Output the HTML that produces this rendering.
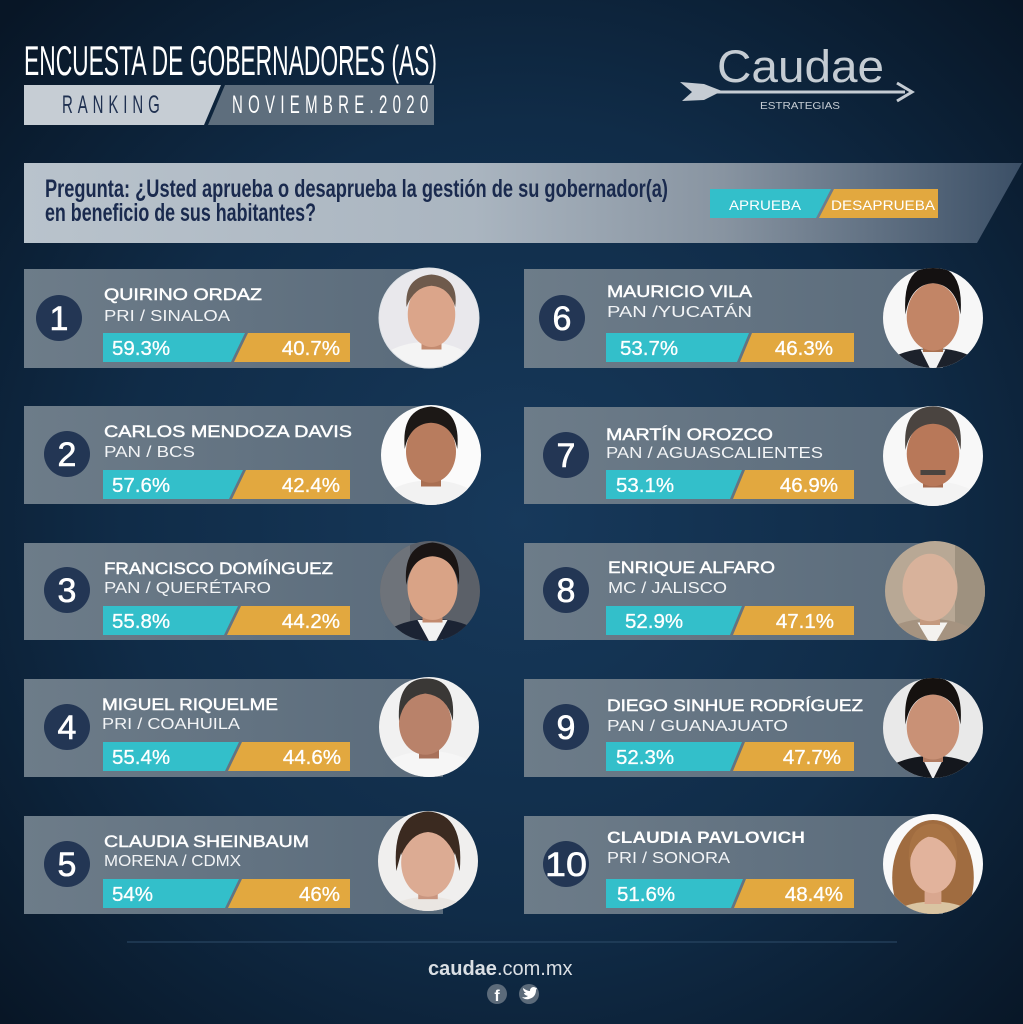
<!DOCTYPE html>
<html><head><meta charset="utf-8"><style>
html,body{margin:0;padding:0;background:#0e2640;}
svg{display:block;}
text{font-family:"Liberation Sans",sans-serif;}
</style></head><body>
<svg width="1023" height="1024" viewBox="0 0 1023 1024" xmlns="http://www.w3.org/2000/svg">
<defs>
<radialGradient id="bg" cx="520" cy="520" r="720" gradientUnits="userSpaceOnUse">
<stop offset="0" stop-color="#17395b"/><stop offset="0.55" stop-color="#102c48"/><stop offset="1" stop-color="#081626"/>
</radialGradient>
<linearGradient id="card" x1="0" y1="0" x2="1" y2="0">
<stop offset="0" stop-color="#6d7c89"/><stop offset="1" stop-color="#5a6b7b"/>
</linearGradient>
<linearGradient id="q" x1="24" y1="0" x2="1022" y2="0" gradientUnits="userSpaceOnUse">
<stop offset="0" stop-color="#b9c3cc"/><stop offset="0.45" stop-color="#aab5c0"/><stop offset="0.7" stop-color="#8894a1"/><stop offset="1" stop-color="#3b4f66"/>
</linearGradient>
<clipPath id="c"><circle r="50"/></clipPath>
</defs>
<rect width="1023" height="1024" fill="url(#bg)"/>

<!-- Header -->
<text x="24" y="75" font-size="42" fill="#ffffff" textLength="413" lengthAdjust="spacingAndGlyphs">ENCUESTA DE GOBERNADORES (AS)</text>
<polygon points="24,85 221,85 204,125 24,125" fill="#c6cdd4"/>
<polygon points="225,85 434,85 434,125 208,125" fill="#5e6e7d"/>
<text transform="translate(62,113) scale(0.6,1)" x="0" y="0" font-size="25" fill="#1f3050" textLength="163" lengthAdjust="spacing">RANKING</text>
<text transform="translate(232,113) scale(0.6,1)" x="0" y="0" font-size="25" fill="#ffffff" textLength="327" lengthAdjust="spacing">NOVIEMBRE.2020</text>

<!-- Logo -->
<text x="717" y="82" font-size="45" fill="#c5ccd3" textLength="167" lengthAdjust="spacingAndGlyphs">Caudae</text>
<rect x="700" y="90.5" width="205" height="3" fill="#c5ccd3"/>
<polygon points="680,82 704,84 722,91 704,100 682,101 692,92" fill="#c5ccd3"/>
<polyline points="897,83 912,92 897,101" fill="none" stroke="#c5ccd3" stroke-width="3"/>
<text x="760" y="109" font-size="10" fill="#c5ccd3" textLength="80" lengthAdjust="spacingAndGlyphs">ESTRATEGIAS</text>

<!-- Question box -->
<polygon points="24,163 1022,163 977,243 24,243" fill="url(#q)"/>
<text x="45" y="197" font-size="25" font-weight="bold" fill="#1a2a4e" textLength="623" lengthAdjust="spacingAndGlyphs">Pregunta: ¿Usted aprueba o desaprueba la gestión de su gobernador(a)</text>
<text x="45" y="221" font-size="25" font-weight="bold" fill="#1a2a4e" textLength="271" lengthAdjust="spacingAndGlyphs">en beneficio de sus habitantes?</text>
<polygon points="710,189 831,189 816,218 710,218" fill="#33bfca"/>
<polygon points="834,189 938,189 938,218 819,218" fill="#e2a83f"/>
<text x="729" y="210" font-size="13.5" fill="#ffffff" textLength="72" lengthAdjust="spacingAndGlyphs">APRUEBA</text>
<text x="831" y="210" font-size="13.5" fill="#ffffff" textLength="104" lengthAdjust="spacingAndGlyphs">DESAPRUEBA</text>

<!-- CARDS -->
<g>
<rect x="24" y="269" width="419" height="99" fill="url(#card)"/>
<rect x="24" y="406" width="419" height="98" fill="url(#card)"/>
<rect x="24" y="543" width="419" height="97" fill="url(#card)"/>
<rect x="24" y="679" width="419" height="98" fill="url(#card)"/>
<rect x="24" y="816" width="419" height="98" fill="url(#card)"/>
<rect x="524" y="269" width="419" height="99" fill="url(#card)"/>
<rect x="524" y="407" width="419" height="97" fill="url(#card)"/>
<rect x="524" y="543" width="419" height="97" fill="url(#card)"/>
<rect x="524" y="679" width="419" height="98" fill="url(#card)"/>
<rect x="524" y="816" width="419" height="98" fill="url(#card)"/>
</g>

<!-- number circles -->
<g fill="#233654">
<circle cx="59" cy="318" r="23"/><circle cx="67" cy="454" r="23"/><circle cx="67" cy="590" r="23"/><circle cx="67" cy="727" r="23"/><circle cx="67" cy="864" r="23"/>
<circle cx="562" cy="318" r="23"/><circle cx="566" cy="455" r="23"/><circle cx="566" cy="590" r="23"/><circle cx="566" cy="727" r="23"/><circle cx="566" cy="864" r="23"/>
</g>
<g fill="#ffffff" font-size="34" text-anchor="middle" stroke="#ffffff" stroke-width="0.6">
<text x="59" y="330">1</text><text x="67" y="466">2</text><text x="67" y="602">3</text><text x="67" y="739">4</text><text x="67" y="876">5</text>
<text x="562" y="330">6</text><text x="566" y="467">7</text><text x="566" y="602">8</text><text x="566" y="739">9</text>
<text x="566" y="876" textLength="42" lengthAdjust="spacingAndGlyphs">10</text>
</g>

<!-- names -->
<g fill="#ffffff" font-size="16.5" stroke="#ffffff" stroke-width="0.45">
<text x="104" y="300" textLength="158" lengthAdjust="spacingAndGlyphs">QUIRINO ORDAZ</text>
<text x="104" y="437" textLength="248" lengthAdjust="spacingAndGlyphs">CARLOS MENDOZA DAVIS</text>
<text x="104" y="574" textLength="229" lengthAdjust="spacingAndGlyphs">FRANCISCO DOMÍNGUEZ</text>
<text x="102" y="710" textLength="176" lengthAdjust="spacingAndGlyphs">MIGUEL RIQUELME</text>
<text x="104" y="847" textLength="205" lengthAdjust="spacingAndGlyphs">CLAUDIA SHEINBAUM</text>
<text x="607" y="297" textLength="145" lengthAdjust="spacingAndGlyphs">MAURICIO VILA</text>
<text x="606" y="440" textLength="167" lengthAdjust="spacingAndGlyphs">MARTÍN OROZCO</text>
<text x="608" y="573" textLength="167" lengthAdjust="spacingAndGlyphs">ENRIQUE ALFARO</text>
<text x="607" y="711" textLength="256" lengthAdjust="spacingAndGlyphs">DIEGO SINHUE RODRÍGUEZ</text>
</g>
<text x="607" y="843" font-size="16.5" font-weight="bold" fill="#ffffff" textLength="198" lengthAdjust="spacingAndGlyphs">CLAUDIA PAVLOVICH</text>

<!-- parties -->
<g fill="#f2f4f6" font-size="16">
<text x="104" y="321" textLength="126" lengthAdjust="spacingAndGlyphs">PRI / SINALOA</text>
<text x="104" y="457" textLength="91" lengthAdjust="spacingAndGlyphs">PAN / BCS</text>
<text x="104" y="593" textLength="167" lengthAdjust="spacingAndGlyphs">PAN / QUERÉTARO</text>
<text x="102" y="729" textLength="138" lengthAdjust="spacingAndGlyphs">PRI / COAHUILA</text>
<text x="104" y="866" textLength="137" lengthAdjust="spacingAndGlyphs">MORENA / CDMX</text>
<text x="607" y="317" textLength="145" lengthAdjust="spacingAndGlyphs">PAN /YUCATÁN</text>
<text x="606" y="458" textLength="217" lengthAdjust="spacingAndGlyphs">PAN / AGUASCALIENTES</text>
<text x="608" y="593" textLength="119" lengthAdjust="spacingAndGlyphs">MC / JALISCO</text>
<text x="607" y="731" textLength="181" lengthAdjust="spacingAndGlyphs">PAN / GUANAJUATO</text>
<text x="607" y="863" textLength="123" lengthAdjust="spacingAndGlyphs">PRI / SONORA</text>
</g>

<!-- bars -->
<g>
<g transform="translate(103,333)"><polygon points="0,0 142,0 128,29 0,29" fill="#33bfca"/><polygon points="145,0 247,0 247,29 131,29" fill="#e2a83f"/></g>
<g transform="translate(103,470)"><polygon points="0,0 140,0 126,29 0,29" fill="#33bfca"/><polygon points="143,0 247,0 247,29 129,29" fill="#e2a83f"/></g>
<g transform="translate(103,606)"><polygon points="0,0 135,0 121,29 0,29" fill="#33bfca"/><polygon points="138,0 247,0 247,29 124,29" fill="#e2a83f"/></g>
<g transform="translate(103,742)"><polygon points="0,0 136,0 122,29 0,29" fill="#33bfca"/><polygon points="139,0 247,0 247,29 125,29" fill="#e2a83f"/></g>
<g transform="translate(103,879)"><polygon points="0,0 136,0 122,29 0,29" fill="#33bfca"/><polygon points="139,0 247,0 247,29 125,29" fill="#e2a83f"/></g>
<g transform="translate(606,333)"><polygon points="0,0 143,0 131,29 0,29" fill="#33bfca"/><polygon points="146,0 248,0 248,29 134,29" fill="#e2a83f"/></g>
<g transform="translate(606,470)"><polygon points="0,0 136,0 124,29 0,29" fill="#33bfca"/><polygon points="139,0 248,0 248,29 127,29" fill="#e2a83f"/></g>
<g transform="translate(606,606)"><polygon points="0,0 136,0 124,29 0,29" fill="#33bfca"/><polygon points="139,0 248,0 248,29 127,29" fill="#e2a83f"/></g>
<g transform="translate(606,742)"><polygon points="0,0 136,0 124,29 0,29" fill="#33bfca"/><polygon points="139,0 248,0 248,29 127,29" fill="#e2a83f"/></g>
<g transform="translate(606,879)"><polygon points="0,0 137,0 125,29 0,29" fill="#33bfca"/><polygon points="140,0 248,0 248,29 128,29" fill="#e2a83f"/></g>
</g>

<!-- percents -->
<g fill="#ffffff" font-size="20.5" stroke="#ffffff" stroke-width="0.3">
<text x="112" y="355">59.3%</text><text x="340" y="355" text-anchor="end">40.7%</text>
<text x="112" y="492">57.6%</text><text x="340" y="492" text-anchor="end">42.4%</text>
<text x="112" y="628">55.8%</text><text x="340" y="628" text-anchor="end">44.2%</text>
<text x="112" y="764">55.4%</text><text x="341" y="764" text-anchor="end">44.6%</text>
<text x="112" y="901">54%</text><text x="340" y="901" text-anchor="end">46%</text>
<text x="620" y="355">53.7%</text><text x="833" y="355" text-anchor="end">46.3%</text>
<text x="616" y="492">53.1%</text><text x="838" y="492" text-anchor="end">46.9%</text>
<text x="625" y="628">52.9%</text><text x="834" y="628" text-anchor="end">47.1%</text>
<text x="616" y="764">52.3%</text><text x="841" y="764" text-anchor="end">47.7%</text>
<text x="617" y="901">51.6%</text><text x="843" y="901" text-anchor="end">48.4%</text>
</g>

<!-- PHOTOS -->
<!-- 1 Quirino -->
<g transform="translate(429,318)"><g clip-path="url(#c)">
<rect x="-50" y="-50" width="100" height="100" fill="#e9e8ec"/>
<g transform="translate(0,4) scale(1.25)">
<ellipse cx="-2" cy="46" rx="46" ry="30" fill="#f4f4f4"/>
<rect x="-6" y="12" width="16" height="10" fill="#c48b70"/>
<ellipse cx="2" cy="-6" rx="19" ry="26" fill="#dba58a"/>
<path d="M-18,-12 Q-20,-36 2,-38 Q24,-36 21,-12 Q16,-28 2,-29 Q-12,-28 -18,-12Z" fill="#6e5a4c"/>
</g></g><circle r="50" fill="none" stroke="#dfe3e7" stroke-width="1"/></g>
<!-- 2 Carlos -->
<g transform="translate(431,455)"><g clip-path="url(#c)">
<rect x="-50" y="-50" width="100" height="100" fill="#fbfbfb"/>
<g transform="translate(0,4) scale(1.25)">
<ellipse cx="0" cy="47" rx="48" ry="30" fill="#f2f2f2"/>
<rect x="-8" y="12" width="16" height="10" fill="#a96f52"/>
<ellipse cx="0" cy="-6" rx="20" ry="25" fill="#b87c5e"/>
<path d="M-21,-8 Q-24,-40 0,-42 Q24,-40 21,-8 Q17,-28 0,-29 Q-17,-28 -21,-8Z" fill="#1c1816"/>
</g></g></g>
<!-- 3 Francisco -->
<g transform="translate(430,591)"><g clip-path="url(#c)">
<rect x="-50" y="-50" width="100" height="100" fill="#5b6068"/>
<rect x="-50" y="-50" width="30" height="100" fill="#6e737a"/>
<g transform="translate(0,4) scale(1.25)">
<ellipse cx="2" cy="47" rx="48" ry="28" fill="#1b2333"/>
<polygon points="-10,20 14,20 2,42" fill="#f2f2f2"/>
<rect x="-6" y="10" width="16" height="12" fill="#c28a6e"/>
<ellipse cx="2" cy="-6" rx="20" ry="26" fill="#d9a386"/>
<path d="M-19,-8 Q-22,-40 2,-42 Q26,-40 23,-8 Q19,-30 2,-31 Q-15,-30 -19,-8Z" fill="#1a1514"/>
</g></g></g>
<!-- 4 Miguel -->
<g transform="translate(429,727)"><g clip-path="url(#c)">
<rect x="-50" y="-50" width="100" height="100" fill="#f1f1f1"/>
<g transform="translate(0,4) scale(1.25)">
<ellipse cx="0" cy="46" rx="48" ry="30" fill="#f6f6f6"/>
<rect x="-8" y="12" width="16" height="10" fill="#a8715a"/>
<ellipse cx="-3" cy="-6" rx="21" ry="25" fill="#b9826a"/>
<path d="M-24,-8 Q-26,-42 -2,-42 Q22,-42 19,-8 Q15,-28 -3,-30 Q-20,-28 -24,-8Z" fill="#3a3836"/>
</g></g></g>
<!-- 5 Claudia S -->
<g transform="translate(428,861)"><g clip-path="url(#c)">
<rect x="-50" y="-50" width="100" height="100" fill="#f0efee"/>
<g transform="translate(0,4) scale(1.22)">
<ellipse cx="0" cy="50" rx="42" ry="24" fill="#eae6e2"/>
<rect x="-8" y="12" width="16" height="16" fill="#c99680"/>
<path d="M-26,5 Q-30,-42 0,-44 Q30,-42 26,5 L22,-10 Q0,-30 -22,-10Z" fill="#3b2a20"/>
<ellipse cx="0" cy="-2" rx="22" ry="28" fill="#dcab93"/>
<path d="M-22,-8 Q-22,-36 0,-37 Q22,-36 22,-8 Q14,-26 0,-27 Q-14,-26 -22,-8Z" fill="#3b2a20"/>
</g></g></g>
<!-- 6 Mauricio -->
<g transform="translate(933,318)"><g clip-path="url(#c)">
<rect x="-50" y="-50" width="100" height="100" fill="#f7f7f7"/>
<g transform="translate(0,4) scale(1.25)">
<ellipse cx="0" cy="49" rx="48" ry="28" fill="#1c212b"/>
<polygon points="-10,22 10,22 0,42" fill="#f2f2f2"/>
<rect x="-8" y="12" width="16" height="12" fill="#a8704f"/>
<ellipse cx="0" cy="-4" rx="21" ry="27" fill="#c28566"/>
<path d="M-22,-6 Q-25,-44 0,-45 Q25,-44 22,-6 Q18,-30 0,-31 Q-18,-30 -22,-6Z" fill="#141111"/>
</g></g></g>
<!-- 7 Martin -->
<g transform="translate(933,456)"><g clip-path="url(#c)">
<rect x="-50" y="-50" width="100" height="100" fill="#f8f8f8"/>
<g transform="translate(0,4) scale(1.25)">
<ellipse cx="0" cy="47" rx="48" ry="30" fill="#f3f3f3"/>
<rect x="-8" y="12" width="16" height="10" fill="#a56a4e"/>
<ellipse cx="0" cy="-5" rx="21" ry="26" fill="#b87859"/>
<path d="M-22,-8 Q-25,-42 0,-43 Q25,-42 22,-8 Q18,-28 0,-29 Q-18,-28 -22,-8Z" fill="#4a4440"/>
<rect x="-10" y="8" width="20" height="4" fill="#4a4440"/>
</g></g></g>
<!-- 8 Enrique -->
<g transform="translate(935,591)"><g clip-path="url(#c)">
<rect x="-50" y="-50" width="100" height="100" fill="#b8a895"/>
<rect x="20" y="-50" width="30" height="100" fill="#9e917f"/>
<g transform="translate(0,4) scale(1.25)">
<ellipse cx="-4" cy="49" rx="50" ry="30" fill="#a59380"/>
<polygon points="-14,22 10,22 -2,42" fill="#f4f2ef"/>
<rect x="-12" y="12" width="16" height="12" fill="#c59a7f"/>
<ellipse cx="-4" cy="-6" rx="22" ry="27" fill="#d8b29b"/>
</g></g></g>
<!-- 9 Diego -->
<g transform="translate(933,728)"><g clip-path="url(#c)">
<rect x="-50" y="-50" width="100" height="100" fill="#e9e9e9"/>
<g transform="translate(0,4) scale(1.25)">
<ellipse cx="0" cy="49" rx="50" ry="30" fill="#14171d"/>
<polygon points="-8,22 8,22 0,38" fill="#eeeeee"/>
<rect x="-8" y="12" width="16" height="12" fill="#b27c62"/>
<ellipse cx="0" cy="-4" rx="21" ry="26" fill="#c99176"/>
<path d="M-22,-6 Q-25,-43 0,-44 Q25,-43 22,-6 Q18,-29 0,-30 Q-18,-29 -22,-6Z" fill="#15110f"/>
</g></g></g>
<!-- 10 Claudia P -->
<g transform="translate(933,864)"><g clip-path="url(#c)">
<rect x="-50" y="-50" width="100" height="100" fill="#f9f9f9"/>
<g transform="translate(0,4) scale(1.2)">
<ellipse cx="0" cy="8" rx="34" ry="48" fill="#a06c40"/>
<ellipse cx="0" cy="52" rx="44" ry="24" fill="#d9c4a2"/>
<rect x="-7" y="14" width="14" height="16" fill="#d9a78f"/>
<ellipse cx="0" cy="-4" rx="19" ry="25" fill="#e2b39c"/>
<path d="M-20,-4 Q-22,-36 0,-37 Q22,-36 20,-4 Q10,-26 -4,-26 Q-16,-22 -20,-4Z" fill="#a87344"/>
</g></g></g>

<!-- Footer -->
<rect x="127" y="941.5" width="770" height="1" fill="#2e4c69"/>
<text x="428" y="975" font-size="20" fill="#dadfe4"><tspan font-weight="bold">caudae</tspan>.com.mx</text>
<circle cx="497" cy="994" r="10" fill="#5c6b7a"/>
<text x="497" y="1001" font-size="16" font-weight="bold" fill="#ffffff" text-anchor="middle">f</text>
<circle cx="529" cy="994" r="10" fill="#5c6b7a"/>
<path d="M522,997 Q526,998 528,996 Q524,995 524,993 Q525,993 526,993 Q523,991 523,988 Q527,991 530,991 Q530,987 534,987 Q536,988 537,988 L536,990 Q536,997 529,999 Q525,1000 522,997Z" fill="#ffffff"/>
</svg>
</body></html>
